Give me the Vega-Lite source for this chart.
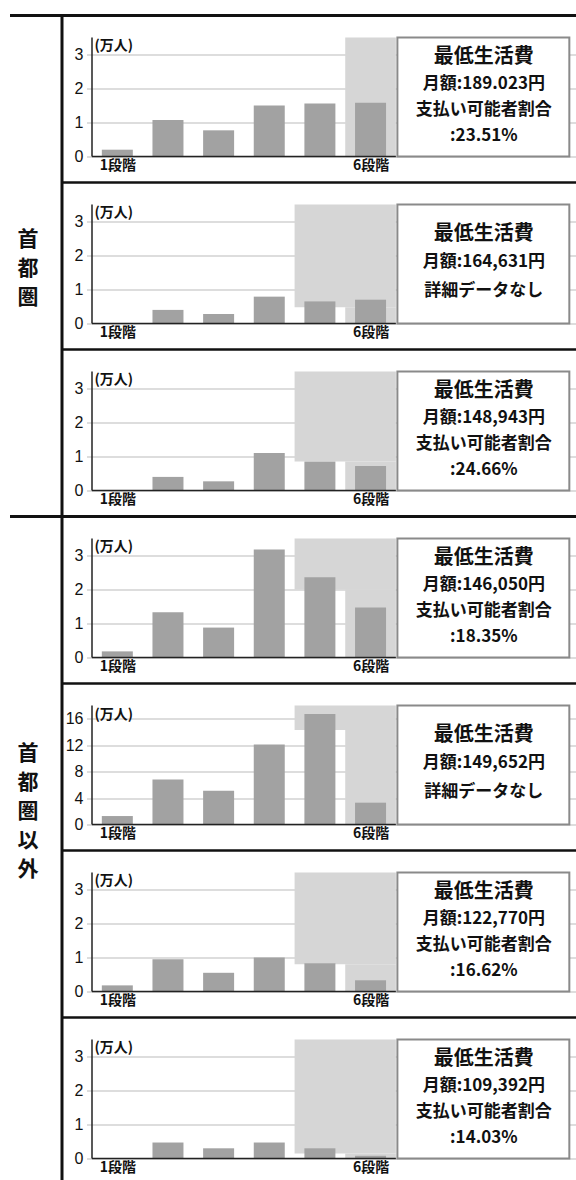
{
  "$schema": "https://vega.github.io/schema/vega-lite/v6.json",
  "padding": {"top": 13.5, "left": 0, "right": 0, "bottom": 0},
  "autosize": {"type": "pad"},
  "background": "white",
  "config": {"view": {"stroke": null}, "font": "Noto Sans CJK JP"},
  "datasets": {
    "bars": [
      {"panel": 1, "stage": 1, "value": 0.2}, {"panel": 1, "stage": 2, "value": 1.07}, {"panel": 1, "stage": 3, "value": 0.77}, {"panel": 1, "stage": 4, "value": 1.5}, {"panel": 1, "stage": 5, "value": 1.56}, {"panel": 1, "stage": 6, "value": 1.58},
      {"panel": 2, "stage": 1, "value": 0}, {"panel": 2, "stage": 2, "value": 0.4}, {"panel": 2, "stage": 3, "value": 0.28}, {"panel": 2, "stage": 4, "value": 0.79}, {"panel": 2, "stage": 5, "value": 0.65}, {"panel": 2, "stage": 6, "value": 0.7},
      {"panel": 3, "stage": 1, "value": 0}, {"panel": 3, "stage": 2, "value": 0.4}, {"panel": 3, "stage": 3, "value": 0.27}, {"panel": 3, "stage": 4, "value": 1.1}, {"panel": 3, "stage": 5, "value": 0.85}, {"panel": 3, "stage": 6, "value": 0.72},
      {"panel": 4, "stage": 1, "value": 0.18}, {"panel": 4, "stage": 2, "value": 1.33}, {"panel": 4, "stage": 3, "value": 0.88}, {"panel": 4, "stage": 4, "value": 3.18}, {"panel": 4, "stage": 5, "value": 2.36}, {"panel": 4, "stage": 6, "value": 1.47},
      {"panel": 5, "stage": 1, "value": 1.28}, {"panel": 5, "stage": 2, "value": 6.8}, {"panel": 5, "stage": 3, "value": 5.1}, {"panel": 5, "stage": 4, "value": 12.1}, {"panel": 5, "stage": 5, "value": 16.7}, {"panel": 5, "stage": 6, "value": 3.3},
      {"panel": 6, "stage": 1, "value": 0.18}, {"panel": 6, "stage": 2, "value": 0.95}, {"panel": 6, "stage": 3, "value": 0.55}, {"panel": 6, "stage": 4, "value": 1.0}, {"panel": 6, "stage": 5, "value": 0.83}, {"panel": 6, "stage": 6, "value": 0.33},
      {"panel": 7, "stage": 1, "value": 0}, {"panel": 7, "stage": 2, "value": 0.47}, {"panel": 7, "stage": 3, "value": 0.3}, {"panel": 7, "stage": 4, "value": 0.47}, {"panel": 7, "stage": 5, "value": 0.3}, {"panel": 7, "stage": 6, "value": 0.08}
    ],
    "shade": [
      {"panel": 1, "from": 5.5, "to": 6.5, "low": 0, "high": 3.5},
      {"panel": 2, "from": 4.5, "to": 6.5, "low": 0.48, "high": 3.5},
      {"panel": 2, "from": 5.5, "to": 6.5, "low": 0, "high": 0.48},
      {"panel": 3, "from": 4.5, "to": 6.5, "low": 0.85, "high": 3.5},
      {"panel": 3, "from": 5.5, "to": 6.5, "low": 0, "high": 0.85},
      {"panel": 4, "from": 4.5, "to": 6.5, "low": 2.0, "high": 3.5},
      {"panel": 4, "from": 5.5, "to": 6.5, "low": 0, "high": 2.0},
      {"panel": 5, "from": 4.5, "to": 6.5, "low": 14.3, "high": 18},
      {"panel": 5, "from": 5.5, "to": 6.5, "low": 0, "high": 14.3},
      {"panel": 6, "from": 4.5, "to": 6.5, "low": 0.8, "high": 3.5},
      {"panel": 6, "from": 5.5, "to": 6.5, "low": 0, "high": 0.8},
      {"panel": 7, "from": 4.5, "to": 6.5, "low": 0.15, "high": 3.5},
      {"panel": 7, "from": 5.5, "to": 6.5, "low": 0, "high": 0.15}
    ],
    "boxes": [
      {"panel": 1, "line": 1, "text": "最低生活費"}, {"panel": 1, "line": 2, "text": "月額:189.023円"}, {"panel": 1, "line": 3, "text": "支払い可能者割合"}, {"panel": 1, "line": 4, "text": ":23.51%"},
      {"panel": 2, "line": 1, "text": "最低生活費"}, {"panel": 2, "line": 2, "text": "月額:164,631円"}, {"panel": 2, "line": 3, "text": "詳細データなし"},
      {"panel": 3, "line": 1, "text": "最低生活費"}, {"panel": 3, "line": 2, "text": "月額:148,943円"}, {"panel": 3, "line": 3, "text": "支払い可能者割合"}, {"panel": 3, "line": 4, "text": ":24.66%"},
      {"panel": 4, "line": 1, "text": "最低生活費"}, {"panel": 4, "line": 2, "text": "月額:146,050円"}, {"panel": 4, "line": 3, "text": "支払い可能者割合"}, {"panel": 4, "line": 4, "text": ":18.35%"},
      {"panel": 5, "line": 1, "text": "最低生活費"}, {"panel": 5, "line": 2, "text": "月額:149,652円"}, {"panel": 5, "line": 3, "text": "詳細データなし"},
      {"panel": 6, "line": 1, "text": "最低生活費"}, {"panel": 6, "line": 2, "text": "月額:122,770円"}, {"panel": 6, "line": 3, "text": "支払い可能者割合"}, {"panel": 6, "line": 4, "text": ":16.62%"},
      {"panel": 7, "line": 1, "text": "最低生活費"}, {"panel": 7, "line": 2, "text": "月額:109,392円"}, {"panel": 7, "line": 3, "text": "支払い可能者割合"}, {"panel": 7, "line": 4, "text": ":14.03%"}
    ],
    "unit": [{"unit": "(万人)"}],
    "bounds": [
      {"boundary": 0, "kind": "group"}, {"boundary": 1, "kind": "panel"}, {"boundary": 2, "kind": "panel"},
      {"boundary": 3, "kind": "group"}, {"boundary": 4, "kind": "panel"}, {"boundary": 5, "kind": "panel"}, {"boundary": 6, "kind": "panel"}
    ],
    "groups": [
      {"group": "首都圏", "label": "首\n都\n圏"},
      {"group": "首都圏以外", "label": "首\n都\n圏\n以\n外"}
    ]
  },
  "hconcat": [
    {
      "width": 87, "height": 1169,
      "layer": [
        {"data": {"name": "bounds"}, "transform": [{"filter": "datum.boundary === 0"}],
         "mark": {"type": "rule", "stroke": "#111", "strokeWidth": 3},
         "encoding": {"x": {"datum": 62, "type": "quantitative", "scale": {"domain": [0, 87], "nice": false, "zero": false}, "axis": null},
                      "y": {"datum": 0, "type": "quantitative", "scale": {"domain": [0, 7], "reverse": true, "nice": false, "zero": false}, "axis": null},
                      "y2": {"datum": 7}}},
        {"data": {"name": "bounds"}, "transform": [{"filter": "datum.kind === 'group'"}],
         "mark": {"type": "rule", "stroke": "#111", "strokeWidth": 3},
         "encoding": {"x": {"datum": 10, "type": "quantitative", "axis": null}, "x2": {"datum": 576},
                      "y": {"field": "boundary", "type": "quantitative", "axis": null}}},
        {"data": {"name": "bounds"}, "transform": [{"filter": "datum.kind === 'panel'"}],
         "mark": {"type": "rule", "stroke": "#111", "strokeWidth": 2.5},
         "encoding": {"x": {"datum": 62, "type": "quantitative", "axis": null}, "x2": {"datum": 576},
                      "y": {"field": "boundary", "type": "quantitative", "axis": null}}},
        {"data": {"name": "groups"}, "transform": [{"filter": "datum.group === '首都圏'"}],
         "mark": {"type": "text", "lineBreak": "\n", "fontSize": 21, "fontWeight": "bold", "lineHeight": 29, "baseline": "middle", "align": "center", "color": "#111"},
         "encoding": {"x": {"datum": 28, "type": "quantitative", "axis": null}, "y": {"datum": 1.347, "type": "quantitative", "axis": null}, "text": {"field": "label"}}},
        {"data": {"name": "groups"}, "transform": [{"filter": "datum.group === '首都圏以外'"}],
         "mark": {"type": "text", "lineBreak": "\n", "fontSize": 21, "fontWeight": "bold", "lineHeight": 29, "baseline": "middle", "align": "center", "color": "#111"},
         "encoding": {"x": {"datum": 28, "type": "quantitative", "axis": null}, "y": {"datum": 4.425, "type": "quantitative", "axis": null}, "text": {"field": "label"}}}
      ]
    },
    {
      "spacing": 0,
      "bounds": "flush",
      "vconcat": [
        {
          "width": 489, "height": 167,
          "layer": [
            {"layer": [
              {"data": {"name": "shade"}, "transform": [{"filter": "datum.panel === 1"}],
               "mark": {"type": "rect", "fill": "#d6d6d6"},
               "encoding": {
                 "x": {"field": "from", "type": "quantitative", "scale": {"domain": [0.5, 9.958], "nice": false, "zero": false},
                       "axis": {"orient": "bottom", "offset": -26, "values": [1, 6], "labelExpr": "datum.value + '段階'", "domain": false, "ticks": false, "grid": false, "title": null, "labelFontSize": 14, "labelFontWeight": "bold", "labelFont": "Noto Sans CJK JP", "labelPadding": 2, "labelColor": "#111"}},
                 "x2": {"field": "to"},
                 "y": {"field": "low", "type": "quantitative", "scale": {"domain": [-0.7647, 4.147], "nice": false, "zero": false},
                       "axis": {"orient": "left", "values": [0, 0.5, 1, 1.5, 2, 2.5, 3, 3.5], "labelExpr": "datum.value % 1 === 0 ? '' + datum.value : ''", "grid": true, "gridColor": {"condition": {"test": "datum.value % 1 === 0", "value": "#777"}, "value": "#999"}, "gridDash": {"condition": {"test": "datum.value % 1 === 0", "value": [1, 1]}, "value": [1, 3]}, "domain": false, "ticks": false, "title": null, "labelFontSize": 16, "labelFont": "Liberation Sans Narrow, Liberation Sans", "labelColor": "#111", "labelPadding": 4}},
                 "y2": {"field": "high"}}},
              {"data": {"name": "bars"}, "transform": [{"filter": "datum.panel === 1"}],
               "mark": {"type": "bar", "orient": "vertical", "size": 31, "fill": "#a2a2a2"},
               "encoding": {"x": {"field": "stage", "type": "quantitative"}, "y": {"field": "value", "type": "quantitative"}}},
              {"data": {"name": "unit"}, "mark": {"type": "rule", "stroke": "#222", "strokeWidth": 1.5},
               "encoding": {"x": {"datum": 0.5, "type": "quantitative"}, "y": {"datum": 0, "type": "quantitative"}, "y2": {"datum": 3.5}}},
              {"data": {"name": "unit"}, "mark": {"type": "rule", "stroke": "#222", "strokeWidth": 1.5},
               "encoding": {"x": {"datum": 0.5, "type": "quantitative"}, "x2": {"datum": 6.5}, "y": {"datum": 0, "type": "quantitative"}}},
              {"data": {"name": "unit"}, "mark": {"type": "rect", "fill": "white", "stroke": "#8a8a8a", "strokeWidth": 2},
               "encoding": {"x": {"datum": 6.53, "type": "quantitative"}, "x2": {"datum": 9.925}, "y": {"datum": 0, "type": "quantitative"}, "y2": {"datum": 3.5}}},
              {"data": {"name": "unit"}, "mark": {"type": "text", "align": "left", "baseline": "top", "dy": 2, "fontSize": 14, "fontWeight": "bold", "color": "#111"},
               "encoding": {"x": {"datum": 0.55, "type": "quantitative"}, "y": {"datum": 3.5, "type": "quantitative"}, "text": {"field": "unit"}}}
            ]},
            {"data": {"name": "boxes"}, "transform": [{"filter": "datum.panel === 1"}],
             "mark": {"type": "text", "fontWeight": "bold", "baseline": "middle", "align": "center", "color": "#111"},
             "encoding": {
               "x": {"datum": 8.237, "type": "quantitative"},
               "y": {"field": "line", "type": "quantitative", "scale": {"domain": [-0.597, 5.753], "reverse": true, "nice": false, "zero": false}, "axis": null},
               "text": {"field": "text"},
               "size": {"condition": {"test": "datum.line === 1", "value": 20}, "value": 17}}}
          ],
          "resolve": {"scale": {"y": "independent"}}
        },
        {
          "width": 489, "height": 167,
          "layer": [
            {"layer": [
              {"data": {"name": "shade"}, "transform": [{"filter": "datum.panel === 2"}],
               "mark": {"type": "rect", "fill": "#d6d6d6"},
               "encoding": {
                 "x": {"field": "from", "type": "quantitative", "scale": {"domain": [0.5, 9.958], "nice": false, "zero": false},
                       "axis": {"orient": "bottom", "offset": -26, "values": [1, 6], "labelExpr": "datum.value + '段階'", "domain": false, "ticks": false, "grid": false, "title": null, "labelFontSize": 14, "labelFontWeight": "bold", "labelFont": "Noto Sans CJK JP", "labelPadding": 2, "labelColor": "#111"}},
                 "x2": {"field": "to"},
                 "y": {"field": "low", "type": "quantitative", "scale": {"domain": [-0.7647, 4.147], "nice": false, "zero": false},
                       "axis": {"orient": "left", "values": [0, 0.5, 1, 1.5, 2, 2.5, 3, 3.5], "labelExpr": "datum.value % 1 === 0 ? '' + datum.value : ''", "grid": true, "gridColor": {"condition": {"test": "datum.value % 1 === 0", "value": "#777"}, "value": "#999"}, "gridDash": {"condition": {"test": "datum.value % 1 === 0", "value": [1, 1]}, "value": [1, 3]}, "domain": false, "ticks": false, "title": null, "labelFontSize": 16, "labelFont": "Liberation Sans Narrow, Liberation Sans", "labelColor": "#111", "labelPadding": 4}},
                 "y2": {"field": "high"}}},
              {"data": {"name": "bars"}, "transform": [{"filter": "datum.panel === 2"}],
               "mark": {"type": "bar", "orient": "vertical", "size": 31, "fill": "#a2a2a2"},
               "encoding": {"x": {"field": "stage", "type": "quantitative"}, "y": {"field": "value", "type": "quantitative"}}},
              {"data": {"name": "unit"}, "mark": {"type": "rule", "stroke": "#222", "strokeWidth": 1.5},
               "encoding": {"x": {"datum": 0.5, "type": "quantitative"}, "y": {"datum": 0, "type": "quantitative"}, "y2": {"datum": 3.5}}},
              {"data": {"name": "unit"}, "mark": {"type": "rule", "stroke": "#222", "strokeWidth": 1.5},
               "encoding": {"x": {"datum": 0.5, "type": "quantitative"}, "x2": {"datum": 6.5}, "y": {"datum": 0, "type": "quantitative"}}},
              {"data": {"name": "unit"}, "mark": {"type": "rect", "fill": "white", "stroke": "#8a8a8a", "strokeWidth": 2},
               "encoding": {"x": {"datum": 6.53, "type": "quantitative"}, "x2": {"datum": 9.925}, "y": {"datum": 0, "type": "quantitative"}, "y2": {"datum": 3.5}}},
              {"data": {"name": "unit"}, "mark": {"type": "text", "align": "left", "baseline": "top", "dy": 2, "fontSize": 14, "fontWeight": "bold", "color": "#111"},
               "encoding": {"x": {"datum": 0.55, "type": "quantitative"}, "y": {"datum": 3.5, "type": "quantitative"}, "text": {"field": "unit"}}}
            ]},
            {"data": {"name": "boxes"}, "transform": [{"filter": "datum.panel === 2"}],
             "mark": {"type": "text", "fontWeight": "bold", "baseline": "middle", "align": "center", "color": "#111"},
             "encoding": {
               "x": {"datum": 8.237, "type": "quantitative"},
               "y": {"field": "line", "type": "quantitative", "scale": {"domain": [-0.857, 5.107], "reverse": true, "nice": false, "zero": false}, "axis": null},
               "text": {"field": "text"},
               "size": {"condition": {"test": "datum.line === 1", "value": 20}, "value": 17}}}
          ],
          "resolve": {"scale": {"y": "independent"}}
        },
        {
          "width": 489, "height": 167,
          "layer": [
            {"layer": [
              {"data": {"name": "shade"}, "transform": [{"filter": "datum.panel === 3"}],
               "mark": {"type": "rect", "fill": "#d6d6d6"},
               "encoding": {
                 "x": {"field": "from", "type": "quantitative", "scale": {"domain": [0.5, 9.958], "nice": false, "zero": false},
                       "axis": {"orient": "bottom", "offset": -26, "values": [1, 6], "labelExpr": "datum.value + '段階'", "domain": false, "ticks": false, "grid": false, "title": null, "labelFontSize": 14, "labelFontWeight": "bold", "labelFont": "Noto Sans CJK JP", "labelPadding": 2, "labelColor": "#111"}},
                 "x2": {"field": "to"},
                 "y": {"field": "low", "type": "quantitative", "scale": {"domain": [-0.7647, 4.147], "nice": false, "zero": false},
                       "axis": {"orient": "left", "values": [0, 0.5, 1, 1.5, 2, 2.5, 3, 3.5], "labelExpr": "datum.value % 1 === 0 ? '' + datum.value : ''", "grid": true, "gridColor": {"condition": {"test": "datum.value % 1 === 0", "value": "#777"}, "value": "#999"}, "gridDash": {"condition": {"test": "datum.value % 1 === 0", "value": [1, 1]}, "value": [1, 3]}, "domain": false, "ticks": false, "title": null, "labelFontSize": 16, "labelFont": "Liberation Sans Narrow, Liberation Sans", "labelColor": "#111", "labelPadding": 4}},
                 "y2": {"field": "high"}}},
              {"data": {"name": "bars"}, "transform": [{"filter": "datum.panel === 3"}],
               "mark": {"type": "bar", "orient": "vertical", "size": 31, "fill": "#a2a2a2"},
               "encoding": {"x": {"field": "stage", "type": "quantitative"}, "y": {"field": "value", "type": "quantitative"}}},
              {"data": {"name": "unit"}, "mark": {"type": "rule", "stroke": "#222", "strokeWidth": 1.5},
               "encoding": {"x": {"datum": 0.5, "type": "quantitative"}, "y": {"datum": 0, "type": "quantitative"}, "y2": {"datum": 3.5}}},
              {"data": {"name": "unit"}, "mark": {"type": "rule", "stroke": "#222", "strokeWidth": 1.5},
               "encoding": {"x": {"datum": 0.5, "type": "quantitative"}, "x2": {"datum": 6.5}, "y": {"datum": 0, "type": "quantitative"}}},
              {"data": {"name": "unit"}, "mark": {"type": "rect", "fill": "white", "stroke": "#8a8a8a", "strokeWidth": 2},
               "encoding": {"x": {"datum": 6.53, "type": "quantitative"}, "x2": {"datum": 9.925}, "y": {"datum": 0, "type": "quantitative"}, "y2": {"datum": 3.5}}},
              {"data": {"name": "unit"}, "mark": {"type": "text", "align": "left", "baseline": "top", "dy": 2, "fontSize": 14, "fontWeight": "bold", "color": "#111"},
               "encoding": {"x": {"datum": 0.55, "type": "quantitative"}, "y": {"datum": 3.5, "type": "quantitative"}, "text": {"field": "unit"}}}
            ]},
            {"data": {"name": "boxes"}, "transform": [{"filter": "datum.panel === 3"}],
             "mark": {"type": "text", "fontWeight": "bold", "baseline": "middle", "align": "center", "color": "#111"},
             "encoding": {
               "x": {"datum": 8.237, "type": "quantitative"},
               "y": {"field": "line", "type": "quantitative", "scale": {"domain": [-0.597, 5.753], "reverse": true, "nice": false, "zero": false}, "axis": null},
               "text": {"field": "text"},
               "size": {"condition": {"test": "datum.line === 1", "value": 20}, "value": 17}}}
          ],
          "resolve": {"scale": {"y": "independent"}}
        },
        {
          "width": 489, "height": 167,
          "layer": [
            {"layer": [
              {"data": {"name": "shade"}, "transform": [{"filter": "datum.panel === 4"}],
               "mark": {"type": "rect", "fill": "#d6d6d6"},
               "encoding": {
                 "x": {"field": "from", "type": "quantitative", "scale": {"domain": [0.5, 9.958], "nice": false, "zero": false},
                       "axis": {"orient": "bottom", "offset": -26, "values": [1, 6], "labelExpr": "datum.value + '段階'", "domain": false, "ticks": false, "grid": false, "title": null, "labelFontSize": 14, "labelFontWeight": "bold", "labelFont": "Noto Sans CJK JP", "labelPadding": 2, "labelColor": "#111"}},
                 "x2": {"field": "to"},
                 "y": {"field": "low", "type": "quantitative", "scale": {"domain": [-0.7647, 4.147], "nice": false, "zero": false},
                       "axis": {"orient": "left", "values": [0, 0.5, 1, 1.5, 2, 2.5, 3, 3.5], "labelExpr": "datum.value % 1 === 0 ? '' + datum.value : ''", "grid": true, "gridColor": {"condition": {"test": "datum.value % 1 === 0", "value": "#777"}, "value": "#999"}, "gridDash": {"condition": {"test": "datum.value % 1 === 0", "value": [1, 1]}, "value": [1, 3]}, "domain": false, "ticks": false, "title": null, "labelFontSize": 16, "labelFont": "Liberation Sans Narrow, Liberation Sans", "labelColor": "#111", "labelPadding": 4}},
                 "y2": {"field": "high"}}},
              {"data": {"name": "bars"}, "transform": [{"filter": "datum.panel === 4"}],
               "mark": {"type": "bar", "orient": "vertical", "size": 31, "fill": "#a2a2a2"},
               "encoding": {"x": {"field": "stage", "type": "quantitative"}, "y": {"field": "value", "type": "quantitative"}}},
              {"data": {"name": "unit"}, "mark": {"type": "rule", "stroke": "#222", "strokeWidth": 1.5},
               "encoding": {"x": {"datum": 0.5, "type": "quantitative"}, "y": {"datum": 0, "type": "quantitative"}, "y2": {"datum": 3.5}}},
              {"data": {"name": "unit"}, "mark": {"type": "rule", "stroke": "#222", "strokeWidth": 1.5},
               "encoding": {"x": {"datum": 0.5, "type": "quantitative"}, "x2": {"datum": 6.5}, "y": {"datum": 0, "type": "quantitative"}}},
              {"data": {"name": "unit"}, "mark": {"type": "rect", "fill": "white", "stroke": "#8a8a8a", "strokeWidth": 2},
               "encoding": {"x": {"datum": 6.53, "type": "quantitative"}, "x2": {"datum": 9.925}, "y": {"datum": 0, "type": "quantitative"}, "y2": {"datum": 3.5}}},
              {"data": {"name": "unit"}, "mark": {"type": "text", "align": "left", "baseline": "top", "dy": 2, "fontSize": 14, "fontWeight": "bold", "color": "#111"},
               "encoding": {"x": {"datum": 0.55, "type": "quantitative"}, "y": {"datum": 3.5, "type": "quantitative"}, "text": {"field": "unit"}}}
            ]},
            {"data": {"name": "boxes"}, "transform": [{"filter": "datum.panel === 4"}],
             "mark": {"type": "text", "fontWeight": "bold", "baseline": "middle", "align": "center", "color": "#111"},
             "encoding": {
               "x": {"datum": 8.237, "type": "quantitative"},
               "y": {"field": "line", "type": "quantitative", "scale": {"domain": [-0.597, 5.753], "reverse": true, "nice": false, "zero": false}, "axis": null},
               "text": {"field": "text"},
               "size": {"condition": {"test": "datum.line === 1", "value": 20}, "value": 17}}}
          ],
          "resolve": {"scale": {"y": "independent"}}
        },
        {
          "width": 489, "height": 167,
          "layer": [
            {"layer": [
              {"data": {"name": "shade"}, "transform": [{"filter": "datum.panel === 5"}],
               "mark": {"type": "rect", "fill": "#d6d6d6"},
               "encoding": {
                 "x": {"field": "from", "type": "quantitative", "scale": {"domain": [0.5, 9.958], "nice": false, "zero": false},
                       "axis": {"orient": "bottom", "offset": -26, "values": [1, 6], "labelExpr": "datum.value + '段階'", "domain": false, "ticks": false, "grid": false, "title": null, "labelFontSize": 14, "labelFontWeight": "bold", "labelFont": "Noto Sans CJK JP", "labelPadding": 2, "labelColor": "#111"}},
                 "x2": {"field": "to"},
                 "y": {"field": "low", "type": "quantitative", "scale": {"domain": [-3.933, 21.33], "nice": false, "zero": false},
                       "axis": {"orient": "left", "values": [0, 2, 4, 6, 8, 10, 12, 14, 16, 18], "labelExpr": "datum.value % 4 === 0 ? '' + datum.value : ''", "grid": true, "gridColor": {"condition": {"test": "datum.value % 4 === 0", "value": "#777"}, "value": "#999"}, "gridDash": {"condition": {"test": "datum.value % 4 === 0", "value": [1, 1]}, "value": [1, 3]}, "domain": false, "ticks": false, "title": null, "labelFontSize": 16, "labelFont": "Liberation Sans Narrow, Liberation Sans", "labelColor": "#111", "labelPadding": 4}},
                 "y2": {"field": "high"}}},
              {"data": {"name": "bars"}, "transform": [{"filter": "datum.panel === 5"}],
               "mark": {"type": "bar", "orient": "vertical", "size": 31, "fill": "#a2a2a2"},
               "encoding": {"x": {"field": "stage", "type": "quantitative"}, "y": {"field": "value", "type": "quantitative"}}},
              {"data": {"name": "unit"}, "mark": {"type": "rule", "stroke": "#222", "strokeWidth": 1.5},
               "encoding": {"x": {"datum": 0.5, "type": "quantitative"}, "y": {"datum": 0, "type": "quantitative"}, "y2": {"datum": 18}}},
              {"data": {"name": "unit"}, "mark": {"type": "rule", "stroke": "#222", "strokeWidth": 1.5},
               "encoding": {"x": {"datum": 0.5, "type": "quantitative"}, "x2": {"datum": 6.5}, "y": {"datum": 0, "type": "quantitative"}}},
              {"data": {"name": "unit"}, "mark": {"type": "rect", "fill": "white", "stroke": "#8a8a8a", "strokeWidth": 2},
               "encoding": {"x": {"datum": 6.53, "type": "quantitative"}, "x2": {"datum": 9.925}, "y": {"datum": 0, "type": "quantitative"}, "y2": {"datum": 18}}},
              {"data": {"name": "unit"}, "mark": {"type": "text", "align": "left", "baseline": "top", "dy": 2, "fontSize": 14, "fontWeight": "bold", "color": "#111"},
               "encoding": {"x": {"datum": 0.55, "type": "quantitative"}, "y": {"datum": 18, "type": "quantitative"}, "text": {"field": "unit"}}}
            ]},
            {"data": {"name": "boxes"}, "transform": [{"filter": "datum.panel === 5"}],
             "mark": {"type": "text", "fontWeight": "bold", "baseline": "middle", "align": "center", "color": "#111"},
             "encoding": {
               "x": {"datum": 8.237, "type": "quantitative"},
               "y": {"field": "line", "type": "quantitative", "scale": {"domain": [-0.857, 5.107], "reverse": true, "nice": false, "zero": false}, "axis": null},
               "text": {"field": "text"},
               "size": {"condition": {"test": "datum.line === 1", "value": 20}, "value": 17}}}
          ],
          "resolve": {"scale": {"y": "independent"}}
        },
        {
          "width": 489, "height": 167,
          "layer": [
            {"layer": [
              {"data": {"name": "shade"}, "transform": [{"filter": "datum.panel === 6"}],
               "mark": {"type": "rect", "fill": "#d6d6d6"},
               "encoding": {
                 "x": {"field": "from", "type": "quantitative", "scale": {"domain": [0.5, 9.958], "nice": false, "zero": false},
                       "axis": {"orient": "bottom", "offset": -26, "values": [1, 6], "labelExpr": "datum.value + '段階'", "domain": false, "ticks": false, "grid": false, "title": null, "labelFontSize": 14, "labelFontWeight": "bold", "labelFont": "Noto Sans CJK JP", "labelPadding": 2, "labelColor": "#111"}},
                 "x2": {"field": "to"},
                 "y": {"field": "low", "type": "quantitative", "scale": {"domain": [-0.7647, 4.147], "nice": false, "zero": false},
                       "axis": {"orient": "left", "values": [0, 0.5, 1, 1.5, 2, 2.5, 3, 3.5], "labelExpr": "datum.value % 1 === 0 ? '' + datum.value : ''", "grid": true, "gridColor": {"condition": {"test": "datum.value % 1 === 0", "value": "#777"}, "value": "#999"}, "gridDash": {"condition": {"test": "datum.value % 1 === 0", "value": [1, 1]}, "value": [1, 3]}, "domain": false, "ticks": false, "title": null, "labelFontSize": 16, "labelFont": "Liberation Sans Narrow, Liberation Sans", "labelColor": "#111", "labelPadding": 4}},
                 "y2": {"field": "high"}}},
              {"data": {"name": "bars"}, "transform": [{"filter": "datum.panel === 6"}],
               "mark": {"type": "bar", "orient": "vertical", "size": 31, "fill": "#a2a2a2"},
               "encoding": {"x": {"field": "stage", "type": "quantitative"}, "y": {"field": "value", "type": "quantitative"}}},
              {"data": {"name": "unit"}, "mark": {"type": "rule", "stroke": "#222", "strokeWidth": 1.5},
               "encoding": {"x": {"datum": 0.5, "type": "quantitative"}, "y": {"datum": 0, "type": "quantitative"}, "y2": {"datum": 3.5}}},
              {"data": {"name": "unit"}, "mark": {"type": "rule", "stroke": "#222", "strokeWidth": 1.5},
               "encoding": {"x": {"datum": 0.5, "type": "quantitative"}, "x2": {"datum": 6.5}, "y": {"datum": 0, "type": "quantitative"}}},
              {"data": {"name": "unit"}, "mark": {"type": "rect", "fill": "white", "stroke": "#8a8a8a", "strokeWidth": 2},
               "encoding": {"x": {"datum": 6.53, "type": "quantitative"}, "x2": {"datum": 9.925}, "y": {"datum": 0, "type": "quantitative"}, "y2": {"datum": 3.5}}},
              {"data": {"name": "unit"}, "mark": {"type": "text", "align": "left", "baseline": "top", "dy": 2, "fontSize": 14, "fontWeight": "bold", "color": "#111"},
               "encoding": {"x": {"datum": 0.55, "type": "quantitative"}, "y": {"datum": 3.5, "type": "quantitative"}, "text": {"field": "unit"}}}
            ]},
            {"data": {"name": "boxes"}, "transform": [{"filter": "datum.panel === 6"}],
             "mark": {"type": "text", "fontWeight": "bold", "baseline": "middle", "align": "center", "color": "#111"},
             "encoding": {
               "x": {"datum": 8.237, "type": "quantitative"},
               "y": {"field": "line", "type": "quantitative", "scale": {"domain": [-0.597, 5.753], "reverse": true, "nice": false, "zero": false}, "axis": null},
               "text": {"field": "text"},
               "size": {"condition": {"test": "datum.line === 1", "value": 20}, "value": 17}}}
          ],
          "resolve": {"scale": {"y": "independent"}}
        },
        {
          "width": 489, "height": 167,
          "layer": [
            {"layer": [
              {"data": {"name": "shade"}, "transform": [{"filter": "datum.panel === 7"}],
               "mark": {"type": "rect", "fill": "#d6d6d6"},
               "encoding": {
                 "x": {"field": "from", "type": "quantitative", "scale": {"domain": [0.5, 9.958], "nice": false, "zero": false},
                       "axis": {"orient": "bottom", "offset": -26, "values": [1, 6], "labelExpr": "datum.value + '段階'", "domain": false, "ticks": false, "grid": false, "title": null, "labelFontSize": 14, "labelFontWeight": "bold", "labelFont": "Noto Sans CJK JP", "labelPadding": 2, "labelColor": "#111"}},
                 "x2": {"field": "to"},
                 "y": {"field": "low", "type": "quantitative", "scale": {"domain": [-0.7647, 4.147], "nice": false, "zero": false},
                       "axis": {"orient": "left", "values": [0, 0.5, 1, 1.5, 2, 2.5, 3, 3.5], "labelExpr": "datum.value % 1 === 0 ? '' + datum.value : ''", "grid": true, "gridColor": {"condition": {"test": "datum.value % 1 === 0", "value": "#777"}, "value": "#999"}, "gridDash": {"condition": {"test": "datum.value % 1 === 0", "value": [1, 1]}, "value": [1, 3]}, "domain": false, "ticks": false, "title": null, "labelFontSize": 16, "labelFont": "Liberation Sans Narrow, Liberation Sans", "labelColor": "#111", "labelPadding": 4}},
                 "y2": {"field": "high"}}},
              {"data": {"name": "bars"}, "transform": [{"filter": "datum.panel === 7"}],
               "mark": {"type": "bar", "orient": "vertical", "size": 31, "fill": "#a2a2a2"},
               "encoding": {"x": {"field": "stage", "type": "quantitative"}, "y": {"field": "value", "type": "quantitative"}}},
              {"data": {"name": "unit"}, "mark": {"type": "rule", "stroke": "#222", "strokeWidth": 1.5},
               "encoding": {"x": {"datum": 0.5, "type": "quantitative"}, "y": {"datum": 0, "type": "quantitative"}, "y2": {"datum": 3.5}}},
              {"data": {"name": "unit"}, "mark": {"type": "rule", "stroke": "#222", "strokeWidth": 1.5},
               "encoding": {"x": {"datum": 0.5, "type": "quantitative"}, "x2": {"datum": 6.5}, "y": {"datum": 0, "type": "quantitative"}}},
              {"data": {"name": "unit"}, "mark": {"type": "rect", "fill": "white", "stroke": "#8a8a8a", "strokeWidth": 2},
               "encoding": {"x": {"datum": 6.53, "type": "quantitative"}, "x2": {"datum": 9.925}, "y": {"datum": 0, "type": "quantitative"}, "y2": {"datum": 3.5}}},
              {"data": {"name": "unit"}, "mark": {"type": "text", "align": "left", "baseline": "top", "dy": 2, "fontSize": 14, "fontWeight": "bold", "color": "#111"},
               "encoding": {"x": {"datum": 0.55, "type": "quantitative"}, "y": {"datum": 3.5, "type": "quantitative"}, "text": {"field": "unit"}}}
            ]},
            {"data": {"name": "boxes"}, "transform": [{"filter": "datum.panel === 7"}],
             "mark": {"type": "text", "fontWeight": "bold", "baseline": "middle", "align": "center", "color": "#111"},
             "encoding": {
               "x": {"datum": 8.237, "type": "quantitative"},
               "y": {"field": "line", "type": "quantitative", "scale": {"domain": [-0.597, 5.753], "reverse": true, "nice": false, "zero": false}, "axis": null},
               "text": {"field": "text"},
               "size": {"condition": {"test": "datum.line === 1", "value": 20}, "value": 17}}}
          ],
          "resolve": {"scale": {"y": "independent"}}
        }
      ]
    }
  ],
  "spacing": 0,
  "bounds": "flush"
}
